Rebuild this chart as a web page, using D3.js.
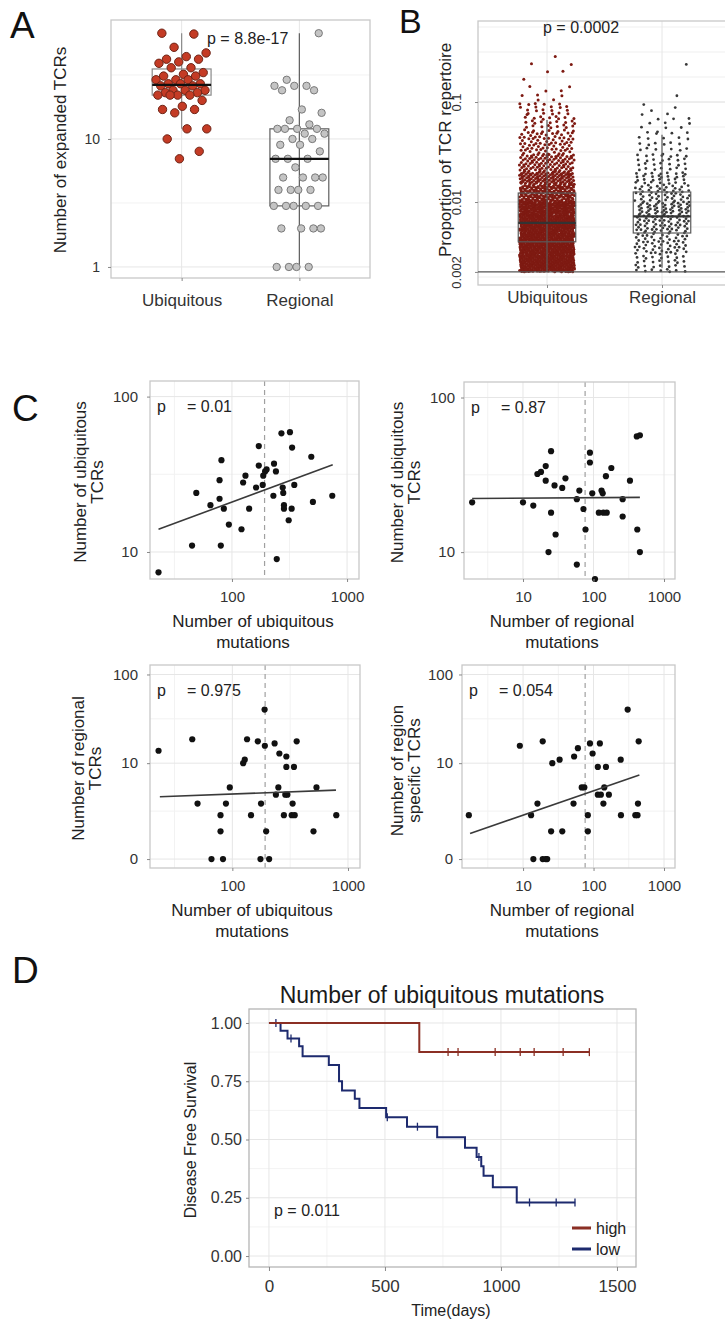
<!DOCTYPE html>
<html lang="en">
<head>
<meta charset="UTF-8" />
<title>TCR expansion and mutations</title>
<style>
  body { margin: 0; background: #fff; }
</style>
</head>
<body>
<div id="chart"></div>
<script src="https://cdn.jsdelivr.net/npm/d3@7/dist/d3.min.js"></script>
<script>
// ---------- values ----------
var groups = ["Ubiquitous", "Regional"];

// A: number of expanded TCRs per patient
var ubiqExpanded = [67, 66, 52, 47, 44, 42, 42, 40, 39, 36, 36, 33, 32, 31, 31, 29, 29, 29, 27, 27, 27,
                    26, 26, 24, 24, 24, 23, 23, 22, 22, 22, 22, 20, 18, 17, 17, 16, 12, 12, 10, 8, 7];
var regExpanded = [1, 1, 1, 1, 2, 2, 2, 2, 3, 3, 3, 3, 3, 4, 4, 4, 4, 5, 5, 5, 5, 6, 7, 7, 7, 8, 9, 9,
                   10, 10, 11, 11, 12, 12, 12, 12, 13, 14, 16, 17, 24, 24, 26, 26, 26, 29, 67];

// B: clone proportions, counted per bin (too many dots to read one by one)
var binEdgesB = [0.002, 0.003, 0.005, 0.0075, 0.01, 0.015, 0.02, 0.03, 0.05, 0.075, 0.1, 0.15, 0.3];
var ubiqCountsB = [300, 380, 300, 220, 190, 115, 100, 75, 35, 20, 9, 6];
var regCountsB = [32, 58, 62, 50, 50, 30, 28, 22, 11, 4, 1, 1];
// box stats: lower whisker, q1, median, q3, upper whisker
var ubiqBoxB = [0.002, 0.0040, 0.0062, 0.0123, 0.066];
var regBoxB = [0.0022, 0.0049, 0.0072, 0.0126, 0.047];

// C: per patient scatter
var tlX = [23, 45, 80, 49, 65, 78, 78, 81, 85, 94, 121, 125, 131, 141, 162, 171, 171, 185, 187, 194,
           200, 229, 232, 241, 245, 269, 319, 333, 276, 279, 283, 283, 311, 330, 348, 489, 505, 744];
var tlY = [7.4, 11, 11, 24, 20, 22, 29, 39, 19, 15, 14, 28, 31, 19, 26, 48, 36, 27, 31, 33,
           34, 23, 37, 33, 9, 58, 59, 47, 26, 24, 20, 19, 16, 19, 27, 41, 21, 23];
var trX = [1.9, 10, 14, 16, 18, 21, 21, 25, 25, 28, 29, 23, 36, 40, 58, 58, 63, 72, 77, 89, 89, 96,
           105, 119, 130, 135, 138, 154, 150, 179, 259, 259, 329, 411, 455, 418, 455];
var trY = [21, 21, 20, 32, 33, 36, 29, 45, 18, 27, 13, 10, 26, 30, 22, 8.3, 25, 19, 14, 44, 38, 24,
           6.7, 18, 25, 24, 18, 18, 31, 35, 22, 17, 29, 56, 57, 14, 10];
var blX = [23, 45, 50, 66, 83, 79, 79, 88, 95, 124, 128, 134, 145, 166, 175, 177, 190, 191, 196, 208,
           232, 238, 250, 255, 279, 287, 293, 293, 299, 332, 326, 341, 346, 360, 503, 534, 792];
var blY = [14, 19, 3, 0, 0, 2, 1, 3, 5, 10, 11, 19, 2, 18, 0, 3, 41, 16, 1, 0,
           17, 4, 5, 13, 2, 4, 12, 9, 4, 3, 2, 9, 2, 18, 1, 5, 2];
var brX = [1.7, 9, 13, 14, 16, 19, 19, 21, 22, 25, 26, 33, 36, 52, 53, 60, 68, 74, 83, 83, 89, 97,
           115, 123, 115, 127, 138, 142, 150, 165, 243, 245, 305, 392, 427, 437, 421];
var brY = [2, 16, 2, 0, 3, 18, 0, 0, 0, 1, 10, 11, 1, 3, 12, 15, 5, 5, 2, 1, 17, 13,
           9, 17, 4, 4, 3, 5, 9, 4, 11, 2, 41, 2, 3, 18, 2];
// fitted lines (ends of the lm line in data units)
var fitTLx = [23, 751], fitTLy = [14.0, 36.4];
var fitTRx = [1.9, 455], fitTRy = [22.2, 22.6];
var fitBLx = [23.6, 787], fitBLy = [3.75, 4.6];
var fitBRx = [1.77, 447], fitBRy = [0.9, 7.2];
var ubiqMutMedian = 192, regMutMedian = 76;

// D: Kaplan-Meier steps
var highT = [0, 648, 1381], highS = [1, 0.875, 0.875];
var highCensor = [772, 815, 975, 1083, 1143, 1268, 1381];
var lowT = [0, 50, 80, 130, 145, 258, 302, 315, 370, 390, 505, 595, 725, 845, 895, 915, 925, 965, 1068, 1320];
var lowS = [1, 0.967, 0.933, 0.9, 0.857, 0.82, 0.75, 0.71, 0.675, 0.635, 0.595, 0.555, 0.51, 0.465,
            0.425, 0.385, 0.345, 0.295, 0.23, 0.23];
var lowCensor = [30, 95, 510, 640, 905, 1123, 1238, 1319];

// ---------- drawing ----------
var W = 725, H = 1323;
var svg = d3.select("#chart").append("svg")
  .attr("width", W).attr("height", H)
  .attr("font-family", '"Liberation Sans", Arial, sans-serif');
svg.append("rect").attr("width", W).attr("height", H).attr("fill", "#fff");

function frac(v) { return v - Math.floor(v); }
function jitter(i, amp) { return (frac(0.5 + (i + 1) * 0.6180339887) - 0.5) * 2 * amp; }

function tidyAxis(sel, size) {
  sel.select(".domain").remove();
  sel.selectAll(".tick line").attr("stroke", "#888");
  sel.selectAll(".tick text").attr("font-size", size).attr("fill", "#333");
}
function hLines(g, y, vals, x0, x1, col) {
  g.selectAll(null).data(vals).enter().append("line")
    .attr("x1", x0).attr("x2", x1).attr("y1", function(d) { return y(d); }).attr("y2", function(d) { return y(d); })
    .attr("stroke", col).attr("stroke-width", 1);
}
function vLines(g, x, vals, y0, y1, col) {
  g.selectAll(null).data(vals).enter().append("line")
    .attr("y1", y0).attr("y2", y1).attr("x1", function(d) { return x(d); }).attr("x2", function(d) { return x(d); })
    .attr("stroke", col).attr("stroke-width", 1);
}
function frame(g, x0, x1, y0, y1, col) {
  g.append("rect").attr("x", x0).attr("y", y0).attr("width", x1 - x0).attr("height", y1 - y0)
    .attr("fill", "none").attr("stroke", col || "#c8c8c8").attr("stroke-width", 1.3);
}
function rotText(g, x, y, txt, size) {
  g.append("text").attr("transform", "translate(" + x + "," + y + ") rotate(-90)")
    .attr("text-anchor", "middle").attr("dy", "0.35em")
    .attr("font-size", size).attr("fill", "#222").text(txt);
}
function label(t, x, y, size) {
  svg.append("text").attr("x", x).attr("y", y).attr("font-size", size || 37).attr("fill", "#111").text(t);
}
function logBox(vals) {
  var l = vals.map(Math.log10).sort(d3.ascending);
  var q1 = d3.quantile(l, 0.25), md = d3.quantile(l, 0.5), q3 = d3.quantile(l, 0.75), iqr = q3 - q1;
  var lo = d3.min(l.filter(function(v) { return v >= q1 - 1.5 * iqr; }));
  var hi = d3.max(l.filter(function(v) { return v <= q3 + 1.5 * iqr; }));
  return [lo, q1, md, q3, hi].map(function(v) { return Math.pow(10, v); });
}
function drawBox(g, cx, bw, y, st, col) {
  g.append("line").attr("x1", cx).attr("x2", cx).attr("y1", y(st[0])).attr("y2", y(st[4]))
    .attr("stroke", col).attr("stroke-width", 1.2);
  g.append("rect").attr("x", cx - bw / 2).attr("width", bw).attr("y", y(st[3]))
    .attr("height", y(st[1]) - y(st[3])).attr("fill", "none")
    .attr("stroke", col).attr("stroke-width", 1.2);
}
function drawMedian(g, cx, bw, y, st, col) {
  g.append("line").attr("x1", cx - bw / 2).attr("x2", cx + bw / 2).attr("y1", y(st[2])).attr("y2", y(st[2]))
    .attr("stroke", col).attr("stroke-width", 2.2);
}

// ===== A =====
label("A", 10, 38);
var gA = svg.append("g");
var xA = d3.scalePoint().domain(groups).range([111, 370]).padding(0.6);
var yA = d3.scaleLog().domain([0.82, 85]).range([278, 20]);
hLines(gA, yA, [Math.sqrt(10), Math.sqrt(1000)], 111, 370, "#f2f2f2");
hLines(gA, yA, [1, 10], 111, 370, "#e6e6e6");
vLines(gA, xA, groups, 20, 278, "#e6e6e6");
frame(gA, 111, 370, 20, 278);
var setsA = [ubiqExpanded, regExpanded];
var bwA = xA.step() * 0.5;
setsA.forEach(function(vals, k) {
  var cx = xA(groups[k]);
  var st = logBox(vals);
  drawBox(gA, cx, bwA, yA, st, k === 0 ? "#8a8a8a" : "#5e5e5e");
  gA.selectAll(null).data(vals).enter().append("circle")
    .attr("cx", function(d, i) { return cx + jitter(i + k * 7, xA.step() * 0.22); })
    .attr("cy", function(d) { return yA(d); })
    .attr("r", k === 0 ? 4.2 : 3.7)
    .attr("fill", k === 0 ? "#c43b25" : "#c4c4c4")
    .attr("stroke", k === 0 ? "#6e2517" : "#7a7a7a")
    .attr("stroke-width", 1);
  drawMedian(gA, cx, bwA, yA, st, "#111");
});
gA.append("g").attr("transform", "translate(111,0)")
  .call(d3.axisLeft(yA).tickValues([1, 10]).tickFormat(d3.format("d")).tickSize(3).tickPadding(8))
  .call(tidyAxis, 14);
gA.append("g").attr("transform", "translate(0,278)")
  .call(d3.axisBottom(xA).tickSize(3).tickPadding(13))
  .call(tidyAxis, 17);
rotText(gA, 60, 150, "Number of expanded TCRs", 17);
gA.append("text").attr("x", 207).attr("y", 44).attr("font-size", 16).attr("fill", "#222").text("p = 8.8e-17");

// ===== B =====
label("B", 399, 33, 34);
var gB = svg.append("g");
var xB = d3.scalePoint().domain(groups).range([478, 731]).padding(0.6);
var yB = d3.scaleLog().domain([0.00148, 0.646]).range([285, 21]);
var quarterDec = d3.range(-11, 0).map(function(k) { return Math.pow(10, k / 4); });
hLines(gB, yB, quarterDec, 478, 731, "#efefef");
hLines(gB, yB, [0.01, 0.1], 478, 731, "#e4e4e4");
vLines(gB, xB, groups, 21, 285, "#e6e6e6");
frame(gB, 478, 731, 21, 285);
var countsB = [ubiqCountsB, regCountsB];
var boxesB = [ubiqBoxB, regBoxB];
var bwB = xB.step() * 0.5;
countsB.forEach(function(counts, k) {
  var cx = xB(groups[k]);
  var pts = [];
  counts.forEach(function(n, b) {
    var lo = Math.log10(binEdgesB[b]), hi = Math.log10(binEdgesB[b + 1]);
    for (var j = 0; j < n; j++) {
      pts.push({
        v: Math.pow(10, lo + (hi - lo) * frac(0.5 + (j + 1) * 0.7548776662 + b * 0.31)),
        dx: (frac(0.5 + (j + 1) * 0.5698402910 + b * 0.17) - 0.5) * 2 * xB.step() * 0.24
      });
    }
  });
  gB.selectAll(null).data(pts).enter().append("circle")
    .attr("cx", function(d) { return cx + d.dx; })
    .attr("cy", function(d) { return yB(d.v); })
    .attr("r", k === 0 ? 1.5 : 1.4)
    .attr("fill", k === 0 ? "#7e1a12" : "#383838");
  drawBox(gB, cx, bwB, yB, boxesB[k], "#5a5a5a");
  drawMedian(gB, cx, bwB, yB, boxesB[k], "#333");
});
gB.append("line").attr("x1", 478).attr("x2", 731).attr("y1", yB(0.002)).attr("y2", yB(0.002))
  .attr("stroke", "#555").attr("stroke-width", 1.3);
var axB = gB.append("g").attr("transform", "translate(478,0)")
  .call(d3.axisLeft(yB).tickValues([0.002, 0.01, 0.1]).tickFormat(function(d) { return String(d); }).tickSize(3))
  .call(tidyAxis, 13);
axB.selectAll(".tick text").attr("x", null).attr("dy", null).attr("text-anchor", "middle")
  .attr("transform", "translate(-17,0) rotate(-90)");
gB.append("g").attr("transform", "translate(0,285)")
  .call(d3.axisBottom(xB).tickSize(3).tickPadding(3))
  .call(tidyAxis, 17);
rotText(gB, 445, 150, "Proportion of TCR repertoire", 17);
gB.append("text").attr("x", 543).attr("y", 33).attr("font-size", 16).attr("fill", "#222").text("p = 0.0002");

// ===== C =====
label("C", 12, 421);
function scatterPanel(o) {
  var g = svg.append("g");
  var x = d3.scaleLog().domain(o.xDomain).range([o.x0, o.x1]);
  var y = (o.zeroAxis ? d3.scaleSymlog().constant(1) : d3.scaleLog()).domain(o.yDomain).range([o.y1, o.y0]);
  // minor grid halfway between major ticks (in pixels)
  function mids(px, lo, hi) {
    var out = [], step = px[1] - px[0];
    for (var i = 0; i < px.length - 1; i++) out.push((px[i] + px[i + 1]) / 2);
    out.push(px[0] - step / 2, px[px.length - 1] + step / 2);
    return out.filter(function(p) { return p > Math.min(lo, hi) + 1 && p < Math.max(lo, hi) - 1; });
  }
  var ident = function(d) { return d; };
  hLines(g, ident, mids(o.yTicks.map(y), o.y0, o.y1), o.x0, o.x1, "#f2f2f2");
  vLines(g, ident, mids(o.xTicks.map(x), o.x0, o.x1), o.y0, o.y1, "#f2f2f2");
  hLines(g, y, o.yTicks, o.x0, o.x1, "#e6e6e6");
  vLines(g, x, o.xTicks, o.y0, o.y1, "#e6e6e6");
  g.append("line").attr("x1", x(o.vline)).attr("x2", x(o.vline)).attr("y1", o.y0).attr("y2", o.y1)
    .attr("stroke", "#a0a0a0").attr("stroke-width", 1.2).attr("stroke-dasharray", "5,4");
  frame(g, o.x0, o.x1, o.y0, o.y1);
  g.selectAll(null).data(o.xs).enter().append("circle")
    .attr("cx", function(d) { return x(d); })
    .attr("cy", function(d, i) { return y(o.ys[i]); })
    .attr("r", 3.1).attr("fill", "#111");
  var line = d3.line().x(function(d) { return x(d[0]); }).y(function(d) { return y(d[1]); });
  g.append("path").datum(d3.zip(o.fitX, o.fitY)).attr("d", line)
    .attr("fill", "none").attr("stroke", "#3a3a3a").attr("stroke-width", 1.6);
  g.append("g").attr("transform", "translate(" + o.x0 + ",0)")
    .call(d3.axisLeft(y).tickValues(o.yTicks).tickFormat(d3.format("d")).tickSize(3).tickPadding(o.yPad))
    .call(tidyAxis, 15);
  g.append("g").attr("transform", "translate(0," + o.y1 + ")")
    .call(d3.axisBottom(x).tickValues(o.xTicks).tickFormat(d3.format("d")).tickSize(3).tickPadding(9))
    .call(tidyAxis, 15);
  rotText(g, o.yt, (o.y0 + o.y1) / 2 + o.ytShift, o.yTitle[0], 17);
  rotText(g, o.yt + 17, (o.y0 + o.y1) / 2 + o.ytShift, o.yTitle[1], 17);
  g.append("text").attr("x", o.xt).attr("y", o.y1 + 48).attr("text-anchor", "middle")
    .attr("font-size", 17).attr("fill", "#222").text(o.xTitle[0]);
  g.append("text").attr("x", o.xt).attr("y", o.y1 + 69).attr("text-anchor", "middle")
    .attr("font-size", 17).attr("fill", "#222").text(o.xTitle[1]);
  g.append("text").attr("x", o.x0 + 7).attr("y", o.y0 + 31).attr("font-size", 16).attr("fill", "#222").text("p");
  g.append("text").attr("x", o.x0 + 37).attr("y", o.y0 + 31).attr("font-size", 16).attr("fill", "#222").text(o.pText);
}
scatterPanel({ x0: 150, x1: 359, y0: 381, y1: 579, xDomain: [19.4, 1270], yDomain: [6.7, 126],
  xTicks: [100, 1000], yTicks: [10, 100], xs: tlX, ys: tlY, fitX: fitTLx, fitY: fitTLy, vline: ubiqMutMedian,
  yPad: 9, yt: 80, ytShift: 2, xt: 253, yTitle: ["Number of ubiquitous", "TCRs"],
  xTitle: ["Number of ubiquitous", "mutations"], pText: "= 0.01" });
scatterPanel({ x0: 464, x1: 675, y0: 382, y1: 579, xDomain: [1.456, 1432], yDomain: [6.7, 126],
  xTicks: [10, 100, 1000], yTicks: [10, 100], xs: trX, ys: trY, fitX: fitTRx, fitY: fitTRy, vline: regMutMedian,
  yPad: 6, yt: 397, ytShift: 2, xt: 562, yTitle: ["Number of ubiquitous", "TCRs"],
  xTitle: ["Number of regional", "mutations"], pText: "= 0.87" });
scatterPanel({ x0: 150, x1: 360, y0: 665, y1: 868, xDomain: [19.4, 1270], yDomain: [-0.25, 127], zeroAxis: true,
  xTicks: [100, 1000], yTicks: [0, 10, 100], xs: blX, ys: blY, fitX: fitBLx, fitY: fitBLy, vline: ubiqMutMedian,
  yPad: 9, yt: 78, ytShift: 2, xt: 252, yTitle: ["Number of regional", "TCRs"],
  xTitle: ["Number of ubiquitous", "mutations"], pText: "= 0.975" });
scatterPanel({ x0: 462, x1: 675, y0: 665, y1: 868, xDomain: [1.36, 1432], yDomain: [-0.25, 127], zeroAxis: true,
  xTicks: [10, 100, 1000], yTicks: [0, 10, 100], xs: brX, ys: brY, fitX: fitBRx, fitY: fitBRy, vline: regMutMedian,
  yPad: 6, yt: 397, ytShift: 4, xt: 562, yTitle: ["Number of region", "specific TCRs"],
  xTitle: ["Number of regional", "mutations"], pText: "= 0.054" });

// ===== D =====
label("D", 12, 983);
var gD = svg.append("g");
var xD = d3.scaleLinear().domain([-86, 1582]).range([249, 636]);
var yD = d3.scaleLinear().domain([-0.047, 1.06]).range([1267, 1009]);
hLines(gD, yD, [0.125, 0.375, 0.625, 0.875], 249, 636, "#f3f3f3");
vLines(gD, xD, [250, 750, 1250], 1009, 1267, "#f3f3f3");
hLines(gD, yD, [0, 0.25, 0.5, 0.75, 1], 249, 636, "#e6e6e6");
vLines(gD, xD, [0, 500, 1000, 1500], 1009, 1267, "#e6e6e6");
frame(gD, 249, 636, 1009, 1267, "#b5b5b5");
var stepLine = d3.line().curve(d3.curveStepAfter)
  .x(function(d) { return xD(d[0]); }).y(function(d) { return yD(d[1]); });
function survAt(ts, ss, t) {
  var i = d3.bisectRight(ts, t) - 1;
  return ss[Math.max(0, i)];
}
var curves = [
  { t: lowT, s: lowS, c: lowCensor, col: "#1d2a6e" },
  { t: highT, s: highS, c: highCensor, col: "#8b2f24" }
];
curves.forEach(function(cv) {
  gD.append("path").datum(d3.zip(cv.t, cv.s)).attr("d", stepLine)
    .attr("fill", "none").attr("stroke", cv.col).attr("stroke-width", 2);
  gD.selectAll(null).data(cv.c).enter().append("line")
    .attr("x1", function(d) { return xD(d); }).attr("x2", function(d) { return xD(d); })
    .attr("y1", function(d) { return yD(survAt(cv.t, cv.s, d)) - 4; })
    .attr("y2", function(d) { return yD(survAt(cv.t, cv.s, d)) + 4; })
    .attr("stroke", cv.col).attr("stroke-width", 1.3);
});
gD.append("g").attr("transform", "translate(249,0)")
  .call(d3.axisLeft(yD).tickValues([0, 0.25, 0.5, 0.75, 1]).tickFormat(d3.format(".2f")).tickSize(3).tickPadding(4))
  .call(tidyAxis, 16);
gD.append("g").attr("transform", "translate(0,1267)")
  .call(d3.axisBottom(xD).tickValues([0, 500, 1000, 1500]).tickFormat(d3.format("d")).tickSize(4).tickPadding(9))
  .call(tidyAxis, 17);
gD.append("text").attr("x", 442).attr("y", 1003).attr("text-anchor", "middle")
  .attr("font-size", 23).attr("fill", "#1a1a1a").text("Number of ubiquitous mutations");
rotText(gD, 190, 1140, "Disease Free Survival", 16);
gD.append("text").attr("x", 451).attr("y", 1316).attr("text-anchor", "middle")
  .attr("font-size", 16).attr("fill", "#222").text("Time(days)");
gD.append("text").attr("x", 274).attr("y", 1216).attr("font-size", 16).attr("fill", "#222").text("p = 0.011");
var legendD = [{ k: "high", col: "#8b2f24" }, { k: "low", col: "#1d2a6e" }];
legendD.forEach(function(d, i) {
  var ly = 1228 + i * 21;
  gD.append("line").attr("x1", 572).attr("x2", 591).attr("y1", ly).attr("y2", ly)
    .attr("stroke", d.col).attr("stroke-width", 3);
  gD.append("text").attr("x", 596).attr("y", ly + 6).attr("font-size", 16).attr("fill", "#222").text(d.k);
});
</script>
</body>
</html>
